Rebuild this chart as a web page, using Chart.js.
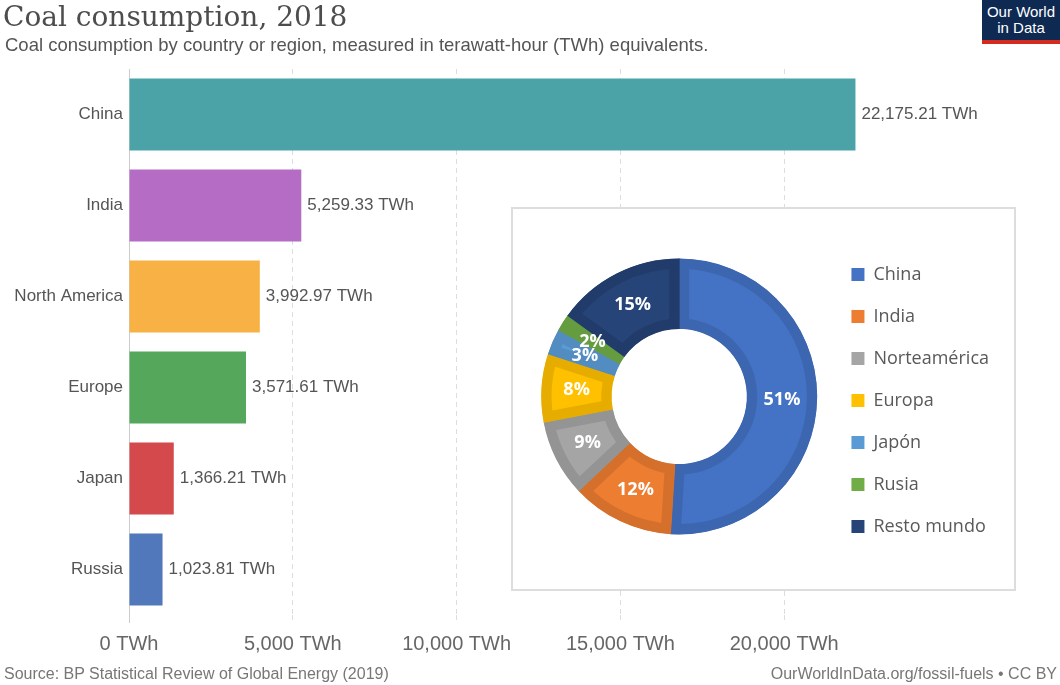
<!DOCTYPE html>
<html>
<head>
<meta charset="utf-8">
<script src="https://cdn.jsdelivr.net/npm/chart.js@4"></script>
<style>
  body { margin: 0; width: 1060px; height: 685px; position: relative; background: #fff; overflow: hidden; font-family: "Liberation Sans", Arial, sans-serif; }
  #barChart { position: absolute; left: 0; top: 0; }
  .title { position: absolute; left: 3px; top: -1px; font: 28px "DejaVu Serif", serif; color: #4d4d4d; line-height: 36px; }
  .subtitle { position: absolute; left: 5px; top: 35px; font-size: 18.5px; color: #555; line-height: 20px; }
  .logo { position: absolute; left: 982px; top: 0; width: 78px; background: #0f2a52; border-bottom: 4px solid #d42b21; color: #fff; font-size: 15px; line-height: 16px; text-align: center; padding-top: 4px; height: 36px; }
  .source { position: absolute; left: 4px; top: 665px; font-size: 16px; color: #777; }
  .credit { position: absolute; right: 3px; top: 665px; font-size: 16px; color: #777; }
  .inset { position: absolute; left: 511px; top: 207px; width: 505px; height: 384px; box-sizing: border-box; border: 2px solid #ddd; background: #fff; }
  #shareChart { position: absolute; left: 0; top: 0; }
</style>
</head>
<body>
<canvas id="barChart" width="1060" height="685"></canvas>
<div class="title">Coal consumption, 2018</div>
<div class="subtitle">Coal consumption by country or region, measured in terawatt-hour (TWh) equivalents.</div>
<div class="logo">Our World<br>in Data</div>
<div class="inset"><canvas id="shareChart" width="501" height="380"></canvas></div>
<div class="source">Source: BP Statistical Review of Global Energy (2019)</div>
<div class="credit">OurWorldInData.org/fossil-fuels • CC BY</div>

<script>
// === Data ===
const countries = ["China", "India", "North America", "Europe", "Japan", "Russia"];
const consumptionTWh = [22175.21, 5259.33, 3992.97, 3571.61, 1366.21, 1023.81];
const xTicks = [0, 5000, 10000, 15000, 20000];

const shareLabels = ["China", "India", "Norteamérica", "Europa", "Japón", "Rusia", "Resto mundo"];
const sharePercent = [51, 12, 9, 8, 3, 2, 15];

// === Colours ===
const barColors = ["#4ba3a8", "#b46cc4", "#f8b144", "#54a75b", "#d4494c", "#5178bb"];
const shareColors = ["#4472c4", "#ed7d31", "#a5a5a5", "#ffc000", "#5b9bd5", "#70ad47", "#264478"];
const shareBorders = ["#3d66b1", "#d5702c", "#949494", "#e6ad00", "#528cc0", "#659c40", "#213c6b"];

const fmt = v => v.toLocaleString("en-US", { minimumFractionDigits: 2, maximumFractionDigits: 2 });

// --- value labels at the end of each bar ---
const valueLabels = {
  id: "valueLabels",
  afterDatasetsDraw(chart) {
    const ctx = chart.ctx;
    ctx.save();
    ctx.font = '17px "Liberation Sans", Arial, sans-serif';
    ctx.fillStyle = "#555";
    ctx.textBaseline = "middle";
    chart.getDatasetMeta(0).data.forEach((bar, i) => {
      ctx.fillText(fmt(consumptionTWh[i]) + " TWh", bar.x + 6, bar.y);
    });
    ctx.restore();
  }
};

// --- percent labels inside the doughnut ---
const percentLabels = {
  id: "percentLabels",
  afterDatasetsDraw(chart) {
    const ctx = chart.ctx;
    ctx.save();
    ctx.font = 'bold 18px "Open Sans", sans-serif';
    ctx.fillStyle = "#fff";
    ctx.textAlign = "center";
    ctx.textBaseline = "middle";
    chart.getDatasetMeta(0).data.forEach((arc, i) => {
      const p = arc.tooltipPosition();
      ctx.fillText(sharePercent[i] + "%", p.x, p.y);
    });
    ctx.restore();
  }
};

// === Bar chart ===
new Chart(document.getElementById("barChart"), {
  type: "bar",
  data: {
    labels: countries,
    datasets: [{
      data: consumptionTWh,
      backgroundColor: barColors,
      barPercentage: 0.79,
      categoryPercentage: 1
    }]
  },
  options: {
    indexAxis: "y",
    responsive: false,
    animation: false,
    layout: { padding: { top: 69, right: 112, bottom: 30, left: 0 } },
    plugins: { legend: { display: false }, tooltip: { enabled: false } },
    scales: {
      x: {
        min: 0,
        max: 25000,
        afterBuildTicks: scale => { scale.ticks = xTicks.map(v => ({ value: v })); },
        afterFit: scale => { scale.height = 40; },
        grid: {
          color: c => (c.tick && c.tick.value === 0 ? "#ccc" : "#ddd"),
          tickColor: c => (c.tick && c.tick.value === 0 ? "#ccc" : "#ddd"),
          tickLength: 8,
          tickBorderDash: c => (c.tick && c.tick.value === 0 ? [] : [5, 4])
        },
        border: { display: false, dash: c => (c.tick && c.tick.value === 0 ? [] : [5, 4]) },
        ticks: {
          padding: 9,
          color: "#666",
          font: { family: '"Liberation Sans", Arial, sans-serif', size: 20 },
          callback: v => v.toLocaleString("en-US") + " TWh"
        }
      },
      y: {
        afterFit: scale => { scale.width = 129; },
        grid: { display: false, drawTicks: false },
        border: { display: false },
        ticks: {
          padding: 6,
          color: "#555",
          font: { family: '"Liberation Sans", Arial, sans-serif', size: 17 }
        }
      }
    }
  },
  plugins: [valueLabels]
});

// === Doughnut inset ===
new Chart(document.getElementById("shareChart"), {
  type: "doughnut",
  data: {
    labels: shareLabels,
    datasets: [{
      data: sharePercent,
      backgroundColor: shareColors,
      borderColor: shareBorders,
      borderWidth: 10,
      borderAlign: "inner",
      radius: 138,
      cutout: "49%"
    }]
  },
  options: {
    responsive: false,
    animation: false,
    layout: { padding: { top: 0, right: 15, bottom: 5, left: 18 } },
    plugins: {
      tooltip: { enabled: false },
      legend: {
        position: "right",
        // empty title only nudges the items a few pixels down
        title: { display: true, text: "", padding: 0, font: { size: 8, lineHeight: 1 } },
        labels: {
          boxWidth: 13,
          boxHeight: 13,
          padding: 24,
          color: "#595959",
          font: { family: '"Open Sans", sans-serif', size: 18 },
          generateLabels: chart =>
            Chart.overrides.doughnut.plugins.legend.labels.generateLabels(chart)
              .map(l => ({ ...l, lineWidth: 0 }))
        }
      }
    }
  },
  plugins: [percentLabels]
});
</script>
</body>
</html>
